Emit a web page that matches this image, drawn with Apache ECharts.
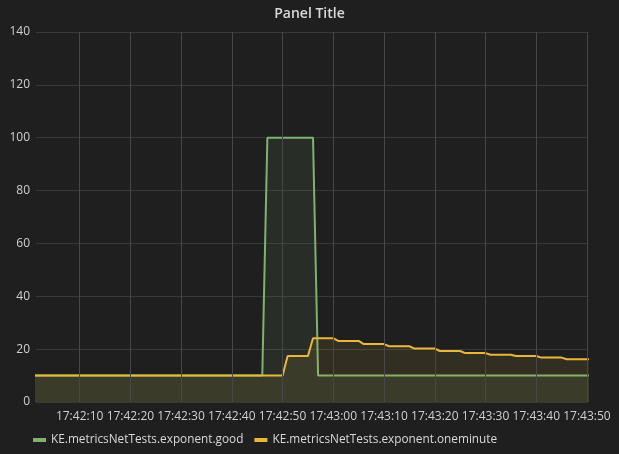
<!DOCTYPE html>
<html>
<head>
<meta charset="utf-8">
<script src="https://cdn.jsdelivr.net/npm/echarts@6/dist/echarts.min.js"></script>
<style>
html,body{margin:0;padding:0;background:#1f1f20;}
#chart{width:619px;height:454px;}
</style>
</head>
<body>
<div id="chart"></div>
<script>
// Data (times as HH:MM:SS)
const goodTimes  = ['17:42:01','17:42:46','17:42:47','17:42:56','17:42:57','17:43:51'];
const goodValues = [10, 10, 100, 100, 10, 10];

const oneminuteTimes  = ['17:42:01','17:42:50','17:42:51','17:42:55','17:42:56','17:43:00','17:43:01','17:43:05','17:43:06','17:43:10','17:43:11','17:43:15','17:43:16','17:43:20','17:43:21','17:43:25','17:43:26','17:43:30','17:43:31','17:43:35','17:43:36','17:43:40','17:43:41','17:43:45','17:43:46','17:43:51'];
const oneminuteValues = [10, 10, 17.4, 17.4, 24.1, 24.1, 23.1, 23.1, 21.9, 21.9, 21.1, 21.1, 20.2, 20.2, 19.3, 19.3, 18.5, 18.5, 17.9, 17.9, 17.4, 17.4, 16.8, 16.8, 16.2, 16.2];

const xTickLabels = ['17:42:10','17:42:20','17:42:30','17:42:40','17:42:50','17:43:00','17:43:10','17:43:20','17:43:30','17:43:40','17:43:50'];
const xRange = ['17:42:01.4', '17:43:50.2'];
const yTicks = [0, 20, 40, 60, 80, 100, 120, 140];

const seriesNames = ['KE.metricsNetTests.exponent.good', 'KE.metricsNetTests.exponent.oneminute'];

// seconds since 17:42:00
function toSec(t) {
  const p = t.split(':');
  return (parseInt(p[0],10) - 17) * 3600 + (parseInt(p[1],10) - 42) * 60 + parseFloat(p[2]);
}
function fmt(sec) {
  const total = Math.round(sec) + 17*3600 + 42*60;
  const h = Math.floor(total/3600), m = Math.floor((total%3600)/60), s = total%60;
  const pad = n => (n < 10 ? '0' : '') + n;
  return pad(h) + ':' + pad(m) + ':' + pad(s);
}
const tickSecs = xTickLabels.map(toSec);

const chart = echarts.init(document.getElementById('chart'), null, {renderer: 'canvas'});
const textColor = '#d0d0d0';
const font = '"Open Sans", "Noto Sans", sans-serif';

chart.setOption({
  backgroundColor: '#1f1f20',
  animation: false,
  title: {
    text: 'Panel Title',
    left: 'center',
    top: 2,
    textStyle: {color: '#d8d9da', fontSize: 14, fontWeight: 600, fontFamily: font}
  },
  legend: {
    left: 33,
    top: 434,
    padding: 0,
    itemWidth: 13,
    itemHeight: 4,
    itemGap: 11,
    icon: 'rect',
    textStyle: {color: '#d8d9da', fontSize: 11.8, fontFamily: font},
    data: seriesNames
  },
  grid: {left: 36, right: 31, top: 32, bottom: 52, containLabel: false},
  xAxis: {
    type: 'value',
    min: toSec(xRange[0]),
    max: toSec(xRange[1]),
    minInterval: 10,
    maxInterval: 10,
    axisLine: {show: false},
    axisTick: {show: false},
    splitLine: {show: false},
    axisLabel: {
      color: textColor, fontSize: 12, fontFamily: font, margin: 9,
      formatter: v => {
        const r = Math.round(v);
        return (Math.abs(v - r) < 1e-6 && tickSecs.indexOf(r) >= 0) ? fmt(r) : '';
      }
    }
  },
  yAxis: {
    type: 'value',
    min: yTicks[0],
    max: yTicks[yTicks.length-1],
    interval: 20,
    axisLine: {show: false},
    axisTick: {show: false},
    axisLabel: {color: textColor, fontSize: 12, fontFamily: font, margin: 6},
    splitLine: {lineStyle: {color: '#383838', width: 1}}
  },
  series: [
    {
      name: seriesNames[0],
      type: 'line',
      data: goodTimes.map((t,i) => [toSec(t), goodValues[i]]),
      showSymbol: false,
      symbol: 'none',
      color: '#7EB26D',
      lineStyle: {width: 2, color: '#7EB26D'},
      areaStyle: {color: '#7EB26D', opacity: 0.1},
      clip: true,
      z: 3,
      markLine: {
        silent: true,
        symbol: ['none','none'],
        label: {show: false},
        animation: false,
        lineStyle: {color: '#474747', width: 1, type: 'solid'},
        emphasis: {disabled: true},
        data: tickSecs.map(s => ({xAxis: s}))
      }
    },
    {
      name: seriesNames[1],
      type: 'line',
      data: oneminuteTimes.map((t,i) => [toSec(t), oneminuteValues[i]]),
      showSymbol: false,
      symbol: 'none',
      color: '#EAB839',
      lineStyle: {width: 2, color: '#EAB839'},
      areaStyle: {color: '#EAB839', opacity: 0.1},
      clip: true,
      z: 4
    }
  ]
});
</script>
</body>
</html>
